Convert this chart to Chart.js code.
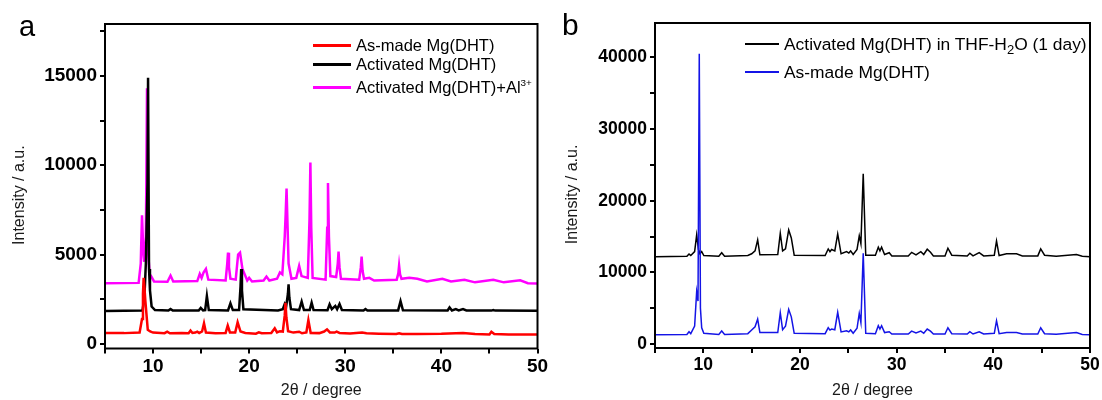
<!DOCTYPE html>
<html>
<head>
<meta charset="utf-8">
<script src="https://cdn.jsdelivr.net/npm/chart.js@4.4.1/dist/chart.umd.min.js"></script>
<style>
  body { margin: 0; background: #fff; width: 1102px; height: 400px; position: relative; overflow: hidden;
         font-family: Arial, "Liberation Sans", sans-serif; }
  .panel { position: absolute; top: 0; width: 551px; height: 400px; }
  .tag { position: absolute; line-height: 1; color: #000; }
  .leg-line { position: absolute; }
  .leg-text { position: absolute; white-space: nowrap; line-height: 20px; color: #000; }
  sup { font-size: 0.6em; vertical-align: 0.7em; line-height: 0; }
  sub { font-size: 0.75em; vertical-align: -0.3em; line-height: 0; }
</style>
</head>
<body>
<div class="panel" style="left:0"><canvas id="chartA" width="551" height="400"></canvas></div>
<div class="panel" style="left:551px"><canvas id="chartB" width="551" height="400"></canvas></div>

<div class="tag" style="left:19px; top:12px; font-size:29px">a</div>
<div class="tag" style="left:562px; top:10px; font-size:30px">b</div>

<!-- legend a -->
<div class="leg-line" style="left:313px; top:44px; width:38px; height:3px; background:#ff0000"></div>
<div class="leg-text" style="left:356px; top:35px; font-size:16.5px">As-made Mg(DHT)</div>
<div class="leg-line" style="left:313px; top:63px; width:38px; height:3px; background:#000"></div>
<div class="leg-text" style="left:356px; top:54px; font-size:16.5px">Activated Mg(DHT)</div>
<div class="leg-line" style="left:313px; top:86px; width:38px; height:3px; background:#ff00ff"></div>
<div class="leg-text" style="left:356px; top:77px; font-size:16.5px">Activated Mg(DHT)+Al<sup>3+</sup></div>

<!-- legend b -->
<div class="leg-line" style="left:745px; top:43px; width:34px; height:1.5px; background:#000"></div>
<div class="leg-text" style="left:784px; top:34px; font-size:17.4px">Activated Mg(DHT) in THF-H<sub>2</sub>O (1 day)</div>
<div class="leg-line" style="left:745px; top:71px; width:34px; height:1.5px; background:#1414e6"></div>
<div class="leg-text" style="left:784px; top:62px; font-size:17.4px">As-made Mg(DHT)</div>

<script>
// ---- panel a : 2theta / intensity pairs ----
const asMadeA = [[5,620],[7.0,610],[8.6,640],[8.85,1400],[8.95,2800],[9.02,3700],[9.1,3200],[9.2,2400],[9.45,800],[9.7,700],[10.0,640],
  [11.2,610],[11.47,690],[11.75,600],[13.0,620],[13.7,600],[13.9,750],[14.1,620],[14.4,640],[14.6,690],[14.8,620],
  [15.1,700],[15.3,1160],[15.5,640],[16.5,600],[17.55,620],[17.77,1030],[18.0,650],[18.55,650],[18.8,1215],[19.1,700],
  [19.6,620],[20.7,580],[21.0,650],[21.3,600],[22.3,620],[22.66,880],[22.9,650],[23.2,720],[23.5,700],[23.7,1600],[23.78,2300],
  [23.87,1500],[24.05,720],[24.6,640],[25.2,690],[25.5,600],[25.95,650],[26.16,1340],[26.4,620],[27.3,610],[27.8,700],[28.1,820],
  [28.4,650],[28.9,640],[29.1,690],[29.4,620],[30.5,590],[31.75,650],[32.2,600],[33.5,580],[35.3,560],[35.6,600],
  [35.9,560],[37.5,560],[40.0,570],[42.25,620],[43.5,560],[45.0,540],[45.2,690],[45.5,560],[47.0,540],[48.5,540],[50,530]];

const activatedA = [[5,1850],[8.9,1870],[9.1,2600],[9.25,4500],[9.42,9000],[9.48,14900],[9.58,4200],[9.68,3000],[9.85,2100],
  [10.2,1900],[11.6,1870],[11.82,1960],[12.05,1870],[14.75,1880],[14.96,2020],[15.2,1880],[15.42,1900],[15.6,2690],
  [15.8,1900],[17.8,1880],[18.05,2280],[18.3,1900],[18.95,1900],[19.1,3200],[19.17,4200],[19.25,3000],[19.4,1950],[23.0,1880],[23.5,1950],
  [23.7,2240],[23.85,2100],[24.03,2800],[24.1,3340],[24.18,2600],[24.35,1950],[25.2,1900],[25.46,2370],[25.7,1900],[26.3,1900],[26.5,2310],
  [26.7,1900],[28.15,1890],[28.37,2220],[28.6,1950],[28.96,2130],[29.15,1950],[29.4,2240],[29.65,1900],[31.9,1880],
  [32.1,1960],[32.3,1880],[35.5,1880],[35.75,2400],[36.0,1890],[40.65,1880],[40.85,2050],[41.1,1880],[41.5,1950],
  [41.8,1880],[42.25,1950],[42.6,1880],[45.2,1870],[45.4,1900],[45.6,1870],[50,1860]];

const activatedAlA = [[5,3400],[8.5,3420],[8.72,4500],[8.78,5800],[8.85,7200],[9.0,5000],[9.08,4600],[9.25,6000],[9.3,9000],[9.37,14300],
  [9.44,8000],[9.5,5000],[9.65,3900],[9.8,3800],[10.1,3500],[11.5,3480],[11.82,3830],[12.1,3500],[14.6,3520],[14.86,3920],
  [15.05,3700],[15.25,4000],[15.5,4200],[15.75,3600],[17.55,3550],[17.72,4500],[17.8,5110],[17.9,4300],[18.05,3650],[18.6,3600],[18.85,5000],
  [19.05,5110],[19.3,4200],[19.8,3550],[20.0,3700],[20.3,3500],[21.5,3550],[21.8,3770],[22.1,3550],[22.9,3650],
  [23.2,4000],[23.45,3900],[23.7,6000],[23.8,7300],[23.89,8700],[24.0,6500],[24.1,4500],[24.4,3650],[24.9,3700],[25.2,4370],[25.45,3800],
  [26.1,3700],[26.28,7000],[26.37,10150],[26.46,6500],[26.6,3700],[27.95,3600],[28.12,6500],[28.2,9000],[28.3,6000],[28.45,3800],
  [29.05,3750],[29.22,4500],[29.3,5170],[29.4,4300],[29.55,3650],
  [31.45,3600],[31.62,4300],[31.7,4890],[31.8,4100],[31.95,3650],[32.5,3700],[33.0,3550],[35.35,3600],[35.52,3950],[35.6,4390],[35.7,3900],[35.85,3650],[36.66,3700],
  [37.5,3650],[38.5,3500],[40.1,3650],[41.0,3500],[42.4,3600],[43.5,3450],[45.4,3600],[46.5,3450],[48.2,3560],
  [49.0,3400],[50,3380]];

// ---- panel b ----
const thfB = [[5,12200],[8.3,12250],[8.52,12570],[8.7,12350],[9.1,12900],[9.31,15230],[9.5,13200],[9.65,12600],
  [9.83,12900],[10.05,12350],[11.6,12250],[11.9,12750],[12.2,12250],[14.6,12350],[15.0,12600],[15.35,13000],
  [15.62,14530],[15.85,12450],[17.7,12500],[17.96,15460],[18.2,13000],[18.5,13300],[18.83,15930],[19.1,14800],
  [19.4,12400],[22.6,12350],[22.92,13270],[23.1,12900],[23.27,13200],[23.6,13000],[23.9,15370],[24.25,12600],
  [24.82,12900],[25.05,12700],[25.24,13000],[25.5,12500],[25.9,13200],[26.13,15090],[26.3,14000],[26.54,23750],
  [26.8,12400],[27.8,12400],[28.1,13510],[28.27,13000],[28.44,13510],[28.75,12500],[29.23,12750],[29.5,12300],
  [31.2,12300],[31.55,12800],[32.0,12450],[32.5,12900],[32.8,12500],[33.16,13230],[33.5,12800],[33.8,12300],
  [35.0,12300],[35.3,13370],[35.7,12400],[37.3,12300],[37.57,12670],[37.9,12300],[38.54,12750],[39.0,12300],
  [40.1,12400],[40.33,14390],[40.6,12350],[41.37,12600],[42.4,12600],[43.0,12300],[44.6,12300],[44.9,13270],
  [45.3,12400],[46.5,12250],[48.6,12500],[49.2,12250],[50,12200]];

const asMadeB = [[5,1300],[8.3,1350],[8.52,1720],[8.7,1450],[9.1,2500],[9.31,7300],[9.45,6000],[9.58,40500],
  [9.7,5000],[9.83,2280],[10.05,1500],[11.6,1350],[11.9,1820],[12.2,1350],[14.6,1450],[15.0,1960],[15.35,2400],
  [15.62,3490],[15.85,1600],[17.7,1600],[17.96,4380],[18.2,2000],[18.5,2500],[18.83,4840],[19.1,3800],[19.4,1500],
  [22.6,1450],[22.92,2280],[23.1,1950],[23.27,2100],[23.6,2000],[23.9,4430],[24.25,1700],[24.82,1860],[25.05,1700],
  [25.24,1960],[25.5,1500],[25.9,2200],[26.13,4280],[26.3,3000],[26.54,12670],[26.8,1500],[27.8,1450],[28.1,2560],
  [28.27,2100],[28.44,2560],[28.75,1600],[29.23,1720],[29.5,1400],[31.2,1400],[31.55,1800],[32.0,1550],[32.5,1800],
  [32.8,1500],[33.16,2100],[33.5,1800],[33.8,1400],[35.0,1400],[35.3,2280],[35.7,1450],[37.3,1400],[37.57,1720],
  [37.9,1400],[38.54,1720],[39.0,1400],[40.1,1500],[40.33,3260],[40.6,1450],[41.37,1600],[42.4,1600],[43.0,1400],
  [44.6,1400],[44.9,2280],[45.3,1450],[46.5,1380],[48.6,1600],[49.2,1350],[50,1300]];

// tick positions and which of them carry a label
const xTicks = [5, 10, 15, 20, 25, 30, 35, 40, 45, 50];
const xTickLabels = [10, 20, 30, 40, 50];
const yTicksA = [0, 2500, 5000, 7500, 10000, 12500, 15000, 17500];
const yTickLabelsA = [0, 5000, 10000, 15000];
const yTicksB = [0, 5000, 10000, 15000, 20000, 25000, 30000, 35000, 40000];
const yTickLabelsB = [0, 10000, 20000, 30000, 40000];

const pts = arr => arr.map(p => ({ x: p[0], y: p[1] }));

// black frame round the plot area
const framePlugin = {
  id: 'frame',
  afterDraw(chart) {
    const { ctx, chartArea: a } = chart;
    ctx.save();
    ctx.strokeStyle = '#000';
    ctx.lineWidth = 2;
    ctx.strokeRect(a.left, a.top, a.right - a.left, a.bottom - a.top);
    ctx.restore();
  }
};

function makeChart(id, cfg) {
  const ctx = document.getElementById(id).getContext('2d');
  return new Chart(ctx, {
    type: 'line',
    data: { datasets: cfg.datasets },
    options: {
      responsive: false,
      animation: false,
      devicePixelRatio: 1,
      layout: { padding: { left: 0, right: cfg.padRight, top: cfg.padTop, bottom: 0 } },
      elements: { point: { radius: 0 }, line: { tension: 0 } },
      plugins: { legend: { display: false }, tooltip: { enabled: false } },
      scales: {
        x: {
          type: 'linear',
          min: 5, max: 50,
          afterFit: s => { s.height = cfg.xHeight; },
          afterBuildTicks: s => { s.ticks = xTicks.map(v => ({ value: v })); },
          grid: { drawOnChartArea: false, drawTicks: true, tickLength: 5, color: '#000', lineWidth: 2 },
          border: { display: false },
          ticks: {
            autoSkip: false, maxRotation: 0, padding: 2, color: '#000',
            font: { family: 'Arial', weight: 'bold', size: cfg.tickSize },
            callback: v => xTickLabels.includes(v) ? v : ''
          },
          title: { display: true, text: '2θ / degree', color: '#1a1a1a',
                   font: { family: 'Arial', size: 16 }, padding: { top: 0, bottom: 0 } }
        },
        y: {
          min: cfg.yMin, max: cfg.yMax,
          afterFit: s => { s.width = cfg.yWidth; },
          afterBuildTicks: s => { s.ticks = cfg.yTicks.map(v => ({ value: v })); },
          grid: { drawOnChartArea: false, drawTicks: true, tickLength: 5, color: '#000', lineWidth: 2 },
          border: { display: false },
          ticks: {
            autoSkip: false, padding: 3, color: '#000',
            font: { family: 'Arial', weight: 'bold', size: cfg.tickSize },
            callback: v => cfg.yLabels.includes(v) ? String(v) : ''
          },
          title: { display: true, text: 'Intensity / a.u.\u00a0\u00a0\u00a0\u00a0', color: '#1a1a1a',
                   font: { family: 'Arial', size: 16 }, padding: { top: cfg.yTitlePad, bottom: 0 } }
        }
      }
    },
    plugins: [framePlugin]
  });
}

makeChart('chartA', {
  datasets: [
    { label: 'As-made Mg(DHT)', data: pts(asMadeA), borderColor: '#ff0000', borderWidth: 2.5 },
    { label: 'Activated Mg(DHT)', data: pts(activatedA), borderColor: '#000000', borderWidth: 2.5 },
    { label: 'Activated Mg(DHT)+Al3+', data: pts(activatedAlA), borderColor: '#ff00ff', borderWidth: 2.5 }
  ],
  yMin: -250, yMax: 17900, yTicks: yTicksA, yLabels: yTickLabelsA,
  yWidth: 105, xHeight: 51.5, padTop: 24, padRight: 13.5, tickSize: 19, yTitlePad: 10
});

makeChart('chartB', {
  datasets: [
    { label: 'As-made Mg(DHT)', data: pts(asMadeB), borderColor: '#1414e6', borderWidth: 1.5 },
    { label: 'Activated Mg(DHT) in THF-H2O (1 day)', data: pts(thfB), borderColor: '#000000', borderWidth: 1.5 }
  ],
  yMin: -550, yMax: 44800, yTicks: yTicksB, yLabels: yTickLabelsB,
  yWidth: 104, xHeight: 52, padTop: 23, padRight: 12, tickSize: 17.5, yTitlePad: 12
});
</script>
</body>
</html>
